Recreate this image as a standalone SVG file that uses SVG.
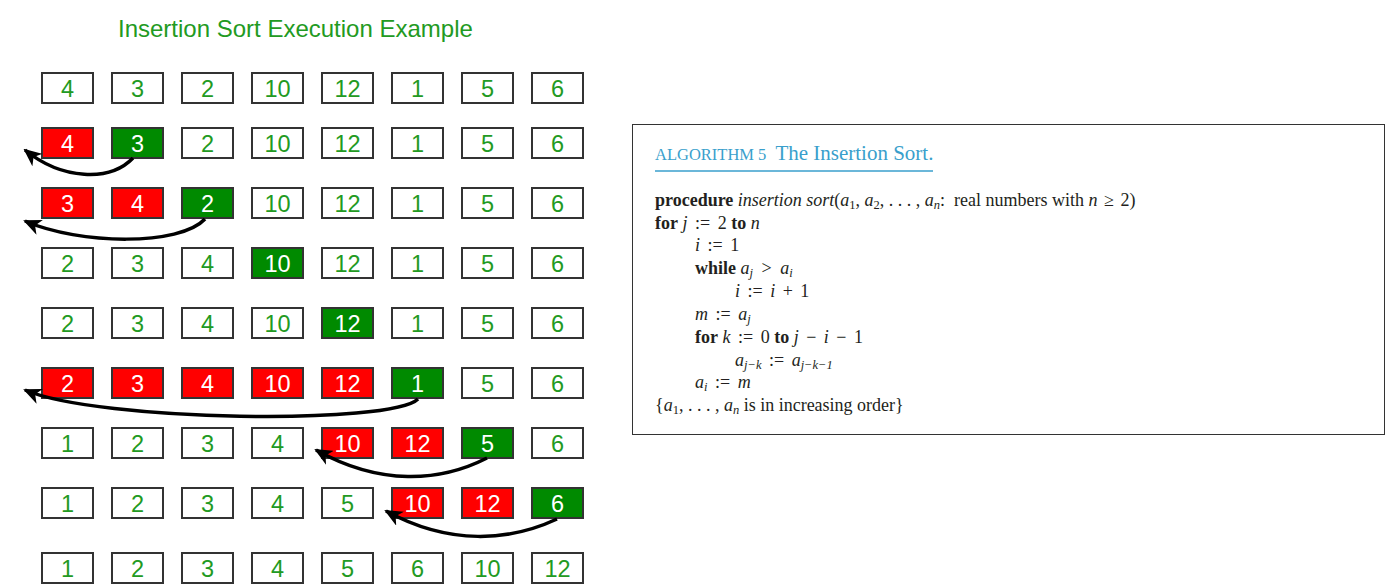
<svg xmlns="http://www.w3.org/2000/svg" width="1387" height="584" viewBox="0 0 1387 584">
<defs>
<style>
.b rect{stroke:#333;stroke-width:2}
.w rect{fill:#fff}
.r rect{fill:#ff0000}
.g rect{fill:#008a00}
.b text{font-family:"Liberation Sans",Arial,sans-serif;font-size:23.5px;text-anchor:middle}
.w text{fill:#229a22}
.r text,.g text{fill:#fff}
.title{font-family:"Liberation Sans",Arial,sans-serif;font-size:24px;fill:#229a22}
.arr{fill:none;stroke:#000;stroke-width:3.5;marker-end:url(#ah)}
.alg{font-family:"Liberation Serif","Times New Roman",serif;font-size:18px;fill:#231f20;white-space:pre}
.bd{font-weight:bold}
.it{font-style:italic}
.sb{font-size:12.5px}
</style>
<marker id="ah" viewBox="0 0 18 16" refX="16" refY="8" markerWidth="18" markerHeight="16" orient="auto" markerUnits="userSpaceOnUse">
<path d="M0,0 L18,8 L0,16 L5,8 z" fill="#000"/>
</marker>
</defs>
<rect width="1387" height="584" fill="#fff"/>
<text class="title" x="118" y="37">Insertion Sort Execution Example</text>

<!-- row 1 -->
<g id="r1c1" class="b w"><rect x="42" y="73" width="51" height="30"/><text x="67.5" y="96.5">4</text></g>
<g id="r1c2" class="b w"><rect x="112" y="73" width="51" height="30"/><text x="137.5" y="96.5">3</text></g>
<g id="r1c3" class="b w"><rect x="182" y="73" width="51" height="30"/><text x="207.5" y="96.5">2</text></g>
<g id="r1c4" class="b w"><rect x="252" y="73" width="51" height="30"/><text x="277.5" y="96.5">10</text></g>
<g id="r1c5" class="b w"><rect x="322" y="73" width="51" height="30"/><text x="347.5" y="96.5">12</text></g>
<g id="r1c6" class="b w"><rect x="392" y="73" width="51" height="30"/><text x="417.5" y="96.5">1</text></g>
<g id="r1c7" class="b w"><rect x="462" y="73" width="51" height="30"/><text x="487.5" y="96.5">5</text></g>
<g id="r1c8" class="b w"><rect x="532" y="73" width="51" height="30"/><text x="557.5" y="96.5">6</text></g>
<!-- row 2 -->
<g id="r2c1" class="b r"><rect x="42" y="128" width="51" height="30"/><text x="67.5" y="151.5">4</text></g>
<g id="r2c2" class="b g"><rect x="112" y="128" width="51" height="30"/><text x="137.5" y="151.5">3</text></g>
<g id="r2c3" class="b w"><rect x="182" y="128" width="51" height="30"/><text x="207.5" y="151.5">2</text></g>
<g id="r2c4" class="b w"><rect x="252" y="128" width="51" height="30"/><text x="277.5" y="151.5">10</text></g>
<g id="r2c5" class="b w"><rect x="322" y="128" width="51" height="30"/><text x="347.5" y="151.5">12</text></g>
<g id="r2c6" class="b w"><rect x="392" y="128" width="51" height="30"/><text x="417.5" y="151.5">1</text></g>
<g id="r2c7" class="b w"><rect x="462" y="128" width="51" height="30"/><text x="487.5" y="151.5">5</text></g>
<g id="r2c8" class="b w"><rect x="532" y="128" width="51" height="30"/><text x="557.5" y="151.5">6</text></g>
<!-- row 3 -->
<g id="r3c1" class="b r"><rect x="42" y="188" width="51" height="30"/><text x="67.5" y="211.5">3</text></g>
<g id="r3c2" class="b r"><rect x="112" y="188" width="51" height="30"/><text x="137.5" y="211.5">4</text></g>
<g id="r3c3" class="b g"><rect x="182" y="188" width="51" height="30"/><text x="207.5" y="211.5">2</text></g>
<g id="r3c4" class="b w"><rect x="252" y="188" width="51" height="30"/><text x="277.5" y="211.5">10</text></g>
<g id="r3c5" class="b w"><rect x="322" y="188" width="51" height="30"/><text x="347.5" y="211.5">12</text></g>
<g id="r3c6" class="b w"><rect x="392" y="188" width="51" height="30"/><text x="417.5" y="211.5">1</text></g>
<g id="r3c7" class="b w"><rect x="462" y="188" width="51" height="30"/><text x="487.5" y="211.5">5</text></g>
<g id="r3c8" class="b w"><rect x="532" y="188" width="51" height="30"/><text x="557.5" y="211.5">6</text></g>
<!-- row 4 -->
<g id="r4c1" class="b w"><rect x="42" y="248" width="51" height="30"/><text x="67.5" y="271.5">2</text></g>
<g id="r4c2" class="b w"><rect x="112" y="248" width="51" height="30"/><text x="137.5" y="271.5">3</text></g>
<g id="r4c3" class="b w"><rect x="182" y="248" width="51" height="30"/><text x="207.5" y="271.5">4</text></g>
<g id="r4c4" class="b g"><rect x="252" y="248" width="51" height="30"/><text x="277.5" y="271.5">10</text></g>
<g id="r4c5" class="b w"><rect x="322" y="248" width="51" height="30"/><text x="347.5" y="271.5">12</text></g>
<g id="r4c6" class="b w"><rect x="392" y="248" width="51" height="30"/><text x="417.5" y="271.5">1</text></g>
<g id="r4c7" class="b w"><rect x="462" y="248" width="51" height="30"/><text x="487.5" y="271.5">5</text></g>
<g id="r4c8" class="b w"><rect x="532" y="248" width="51" height="30"/><text x="557.5" y="271.5">6</text></g>
<!-- row 5 -->
<g id="r5c1" class="b w"><rect x="42" y="308" width="51" height="30"/><text x="67.5" y="331.5">2</text></g>
<g id="r5c2" class="b w"><rect x="112" y="308" width="51" height="30"/><text x="137.5" y="331.5">3</text></g>
<g id="r5c3" class="b w"><rect x="182" y="308" width="51" height="30"/><text x="207.5" y="331.5">4</text></g>
<g id="r5c4" class="b w"><rect x="252" y="308" width="51" height="30"/><text x="277.5" y="331.5">10</text></g>
<g id="r5c5" class="b g"><rect x="322" y="308" width="51" height="30"/><text x="347.5" y="331.5">12</text></g>
<g id="r5c6" class="b w"><rect x="392" y="308" width="51" height="30"/><text x="417.5" y="331.5">1</text></g>
<g id="r5c7" class="b w"><rect x="462" y="308" width="51" height="30"/><text x="487.5" y="331.5">5</text></g>
<g id="r5c8" class="b w"><rect x="532" y="308" width="51" height="30"/><text x="557.5" y="331.5">6</text></g>
<!-- row 6 -->
<g id="r6c1" class="b r"><rect x="42" y="368" width="51" height="30"/><text x="67.5" y="391.5">2</text></g>
<g id="r6c2" class="b r"><rect x="112" y="368" width="51" height="30"/><text x="137.5" y="391.5">3</text></g>
<g id="r6c3" class="b r"><rect x="182" y="368" width="51" height="30"/><text x="207.5" y="391.5">4</text></g>
<g id="r6c4" class="b r"><rect x="252" y="368" width="51" height="30"/><text x="277.5" y="391.5">10</text></g>
<g id="r6c5" class="b r"><rect x="322" y="368" width="51" height="30"/><text x="347.5" y="391.5">12</text></g>
<g id="r6c6" class="b g"><rect x="392" y="368" width="51" height="30"/><text x="417.5" y="391.5">1</text></g>
<g id="r6c7" class="b w"><rect x="462" y="368" width="51" height="30"/><text x="487.5" y="391.5">5</text></g>
<g id="r6c8" class="b w"><rect x="532" y="368" width="51" height="30"/><text x="557.5" y="391.5">6</text></g>
<!-- row 7 -->
<g id="r7c1" class="b w"><rect x="42" y="428" width="51" height="30"/><text x="67.5" y="451.5">1</text></g>
<g id="r7c2" class="b w"><rect x="112" y="428" width="51" height="30"/><text x="137.5" y="451.5">2</text></g>
<g id="r7c3" class="b w"><rect x="182" y="428" width="51" height="30"/><text x="207.5" y="451.5">3</text></g>
<g id="r7c4" class="b w"><rect x="252" y="428" width="51" height="30"/><text x="277.5" y="451.5">4</text></g>
<g id="r7c5" class="b r"><rect x="322" y="428" width="51" height="30"/><text x="347.5" y="451.5">10</text></g>
<g id="r7c6" class="b r"><rect x="392" y="428" width="51" height="30"/><text x="417.5" y="451.5">12</text></g>
<g id="r7c7" class="b g"><rect x="462" y="428" width="51" height="30"/><text x="487.5" y="451.5">5</text></g>
<g id="r7c8" class="b w"><rect x="532" y="428" width="51" height="30"/><text x="557.5" y="451.5">6</text></g>
<!-- row 8 -->
<g id="r8c1" class="b w"><rect x="42" y="488" width="51" height="30"/><text x="67.5" y="511.5">1</text></g>
<g id="r8c2" class="b w"><rect x="112" y="488" width="51" height="30"/><text x="137.5" y="511.5">2</text></g>
<g id="r8c3" class="b w"><rect x="182" y="488" width="51" height="30"/><text x="207.5" y="511.5">3</text></g>
<g id="r8c4" class="b w"><rect x="252" y="488" width="51" height="30"/><text x="277.5" y="511.5">4</text></g>
<g id="r8c5" class="b w"><rect x="322" y="488" width="51" height="30"/><text x="347.5" y="511.5">5</text></g>
<g id="r8c6" class="b r"><rect x="392" y="488" width="51" height="30"/><text x="417.5" y="511.5">10</text></g>
<g id="r8c7" class="b r"><rect x="462" y="488" width="51" height="30"/><text x="487.5" y="511.5">12</text></g>
<g id="r8c8" class="b g"><rect x="532" y="488" width="51" height="30"/><text x="557.5" y="511.5">6</text></g>
<!-- row 9 -->
<g id="r9c1" class="b w"><rect x="42" y="553" width="51" height="30"/><text x="67.5" y="576.5">1</text></g>
<g id="r9c2" class="b w"><rect x="112" y="553" width="51" height="30"/><text x="137.5" y="576.5">2</text></g>
<g id="r9c3" class="b w"><rect x="182" y="553" width="51" height="30"/><text x="207.5" y="576.5">3</text></g>
<g id="r9c4" class="b w"><rect x="252" y="553" width="51" height="30"/><text x="277.5" y="576.5">4</text></g>
<g id="r9c5" class="b w"><rect x="322" y="553" width="51" height="30"/><text x="347.5" y="576.5">5</text></g>
<g id="r9c6" class="b w"><rect x="392" y="553" width="51" height="30"/><text x="417.5" y="576.5">6</text></g>
<g id="r9c7" class="b w"><rect x="462" y="553" width="51" height="30"/><text x="487.5" y="576.5">10</text></g>
<g id="r9c8" class="b w"><rect x="532" y="553" width="51" height="30"/><text x="557.5" y="576.5">12</text></g>

<g id="connectors">
<path class="arr" d="M133,158 C110,182 62,180 25,150"/>
<path class="arr" d="M205,219 C180,246 80,245 25,221"/>
<path class="arr" d="M418,399 C392,425 100,422 25,390"/>
<path class="arr" d="M487,458 C440,482 380,486 316,450"/>
<path class="arr" d="M557,519 C510,541 450,546 386,511"/>
</g>

<g id="algorithm">
<rect x="632.5" y="124.5" width="752" height="310" fill="#fff" stroke="#333" stroke-width="1"/>
<text x="655" y="160" font-family="'Liberation Serif','Times New Roman',serif" fill="#3a9fcc"><tspan font-size="16.5">ALGORITHM 5</tspan><tspan font-size="21" dx="9">The Insertion Sort.</tspan></text>
<line x1="655" y1="171" x2="933" y2="171" stroke="#3a9fcc" stroke-width="1.5"/>
<text class="alg" x="655" y="206"><tspan class="bd">procedure</tspan> <tspan class="it">insertion sort</tspan>(<tspan class="it">a</tspan><tspan class="sb" dy="3">1</tspan><tspan dy="-3">, </tspan><tspan class="it">a</tspan><tspan class="sb" dy="3">2</tspan><tspan dy="-3">, . . . , </tspan><tspan class="it">a</tspan><tspan class="sb it" dy="3">n</tspan><tspan dy="-3">:  real numbers with </tspan><tspan class="it">n</tspan><tspan dx="2"> ≥</tspan><tspan dx="2"> 2)</tspan></text>
<text class="alg" x="655" y="229"><tspan class="bd">for</tspan> <tspan class="it">j</tspan><tspan dx="3"> :=</tspan><tspan dx="3"> 2 </tspan><tspan class="bd">to</tspan> <tspan class="it">n</tspan></text>
<text class="alg" x="695" y="251"><tspan class="it">i</tspan><tspan dx="3"> :=</tspan><tspan dx="3"> 1</tspan></text>
<text class="alg" x="695" y="274"><tspan class="bd">while</tspan> <tspan class="it">a</tspan><tspan class="sb it" dy="3">j</tspan><tspan dy="-3" dx="4"> &gt;</tspan><tspan dx="4"> </tspan><tspan class="it">a</tspan><tspan class="sb it" dy="3">i</tspan></text>
<text class="alg" x="735" y="297"><tspan class="it">i</tspan><tspan dx="3"> :=</tspan><tspan dx="3"> </tspan><tspan class="it">i</tspan><tspan dx="3"> +</tspan><tspan dx="3"> 1</tspan></text>
<text class="alg" x="695" y="320"><tspan class="it">m</tspan><tspan dx="3"> :=</tspan><tspan dx="3"> </tspan><tspan class="it">a</tspan><tspan class="sb it" dy="3">j</tspan></text>
<text class="alg" x="695" y="343"><tspan class="bd">for</tspan> <tspan class="it">k</tspan><tspan dx="3"> :=</tspan><tspan dx="3"> 0 </tspan><tspan class="bd">to</tspan> <tspan class="it">j</tspan><tspan dx="3"> −</tspan><tspan dx="3"> </tspan><tspan class="it">i</tspan><tspan dx="3"> −</tspan><tspan dx="3"> 1</tspan></text>
<text class="alg" x="735" y="366"><tspan class="it">a</tspan><tspan class="sb it" dy="3">j−k</tspan><tspan dy="-3" dx="3"> :=</tspan><tspan dx="3"> </tspan><tspan class="it">a</tspan><tspan class="sb it" dy="3">j−k−1</tspan></text>
<text class="alg" x="695" y="388"><tspan class="it">a</tspan><tspan class="sb it" dy="3">i</tspan><tspan dy="-3" dx="3"> :=</tspan><tspan dx="3"> </tspan><tspan class="it">m</tspan></text>
<text class="alg" x="655" y="411">{<tspan class="it">a</tspan><tspan class="sb" dy="3">1</tspan><tspan dy="-3">, . . . , </tspan><tspan class="it">a</tspan><tspan class="sb it" dy="3">n</tspan><tspan dy="-3"> is in increasing order}</tspan></text>
</g>
</svg>
